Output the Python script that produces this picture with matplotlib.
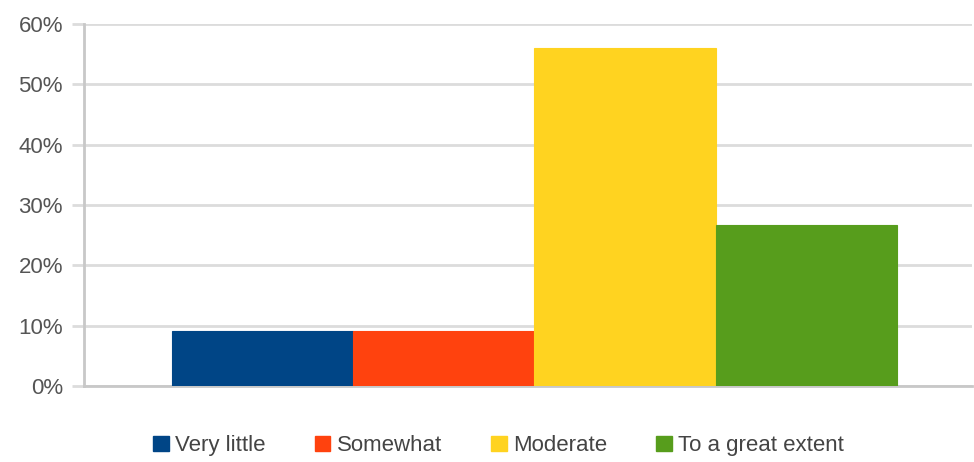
import numpy as np
import matplotlib.pyplot as plt
from matplotlib.patches import Patch

plt.rcParams['font.family'] = ['Liberation Sans', 'DejaVu Sans']

# Valeurs (en %)
categories = ['Very little', 'Somewhat', 'Moderate', 'To a great extent']
values = [9.1, 9.1, 56.0, 26.7]
colors = ['#004586', '#ff420e', '#ffd320', '#579d1c']
yticks = [0, 10, 20, 30, 40, 50, 60]

fig = plt.figure(figsize=(9.74, 4.62), dpi=100)
ax = fig.add_axes([84 / 974, 1 - 386 / 462, 888 / 974, 362 / 462])

x = np.arange(len(categories))
ax.bar(x, values, width=1.0, color=colors, edgecolor=colors, linewidth=0.8, zorder=3)

ax.set_ylim(0, 60)
ax.set_xlim(-0.986, 3.915)
ax.set_yticks(yticks)
ax.set_yticklabels([f'{t}%' for t in yticks])
ax.set_xticks([])

ax.grid(axis='y', color='#dcdcdc', linewidth=2, zorder=0)
for side in ['top', 'right']:
    ax.spines[side].set_visible(False)
ax.spines['left'].set_color('#c8c8c8')
ax.spines['left'].set_linewidth(2)
ax.spines['bottom'].set_color('#c8c8c8')
ax.spines['bottom'].set_linewidth(2)
ax.tick_params(axis='y', length=8.6, width=2, color='#dcdcdc', labelsize=16,
               labelcolor='#555555', pad=6.5)

handles = [Patch(facecolor=c, edgecolor=c) for c in colors]
fig.legend(handles, categories, loc='center', bbox_to_anchor=(0.512, 0.035),
           ncol=4, frameon=False, fontsize=16, handlelength=0.7, handleheight=0.7,
           handletextpad=0.3, columnspacing=2.2, labelcolor='#444444',
           borderaxespad=0, borderpad=0)

plt.savefig('out.png', dpi=100)
